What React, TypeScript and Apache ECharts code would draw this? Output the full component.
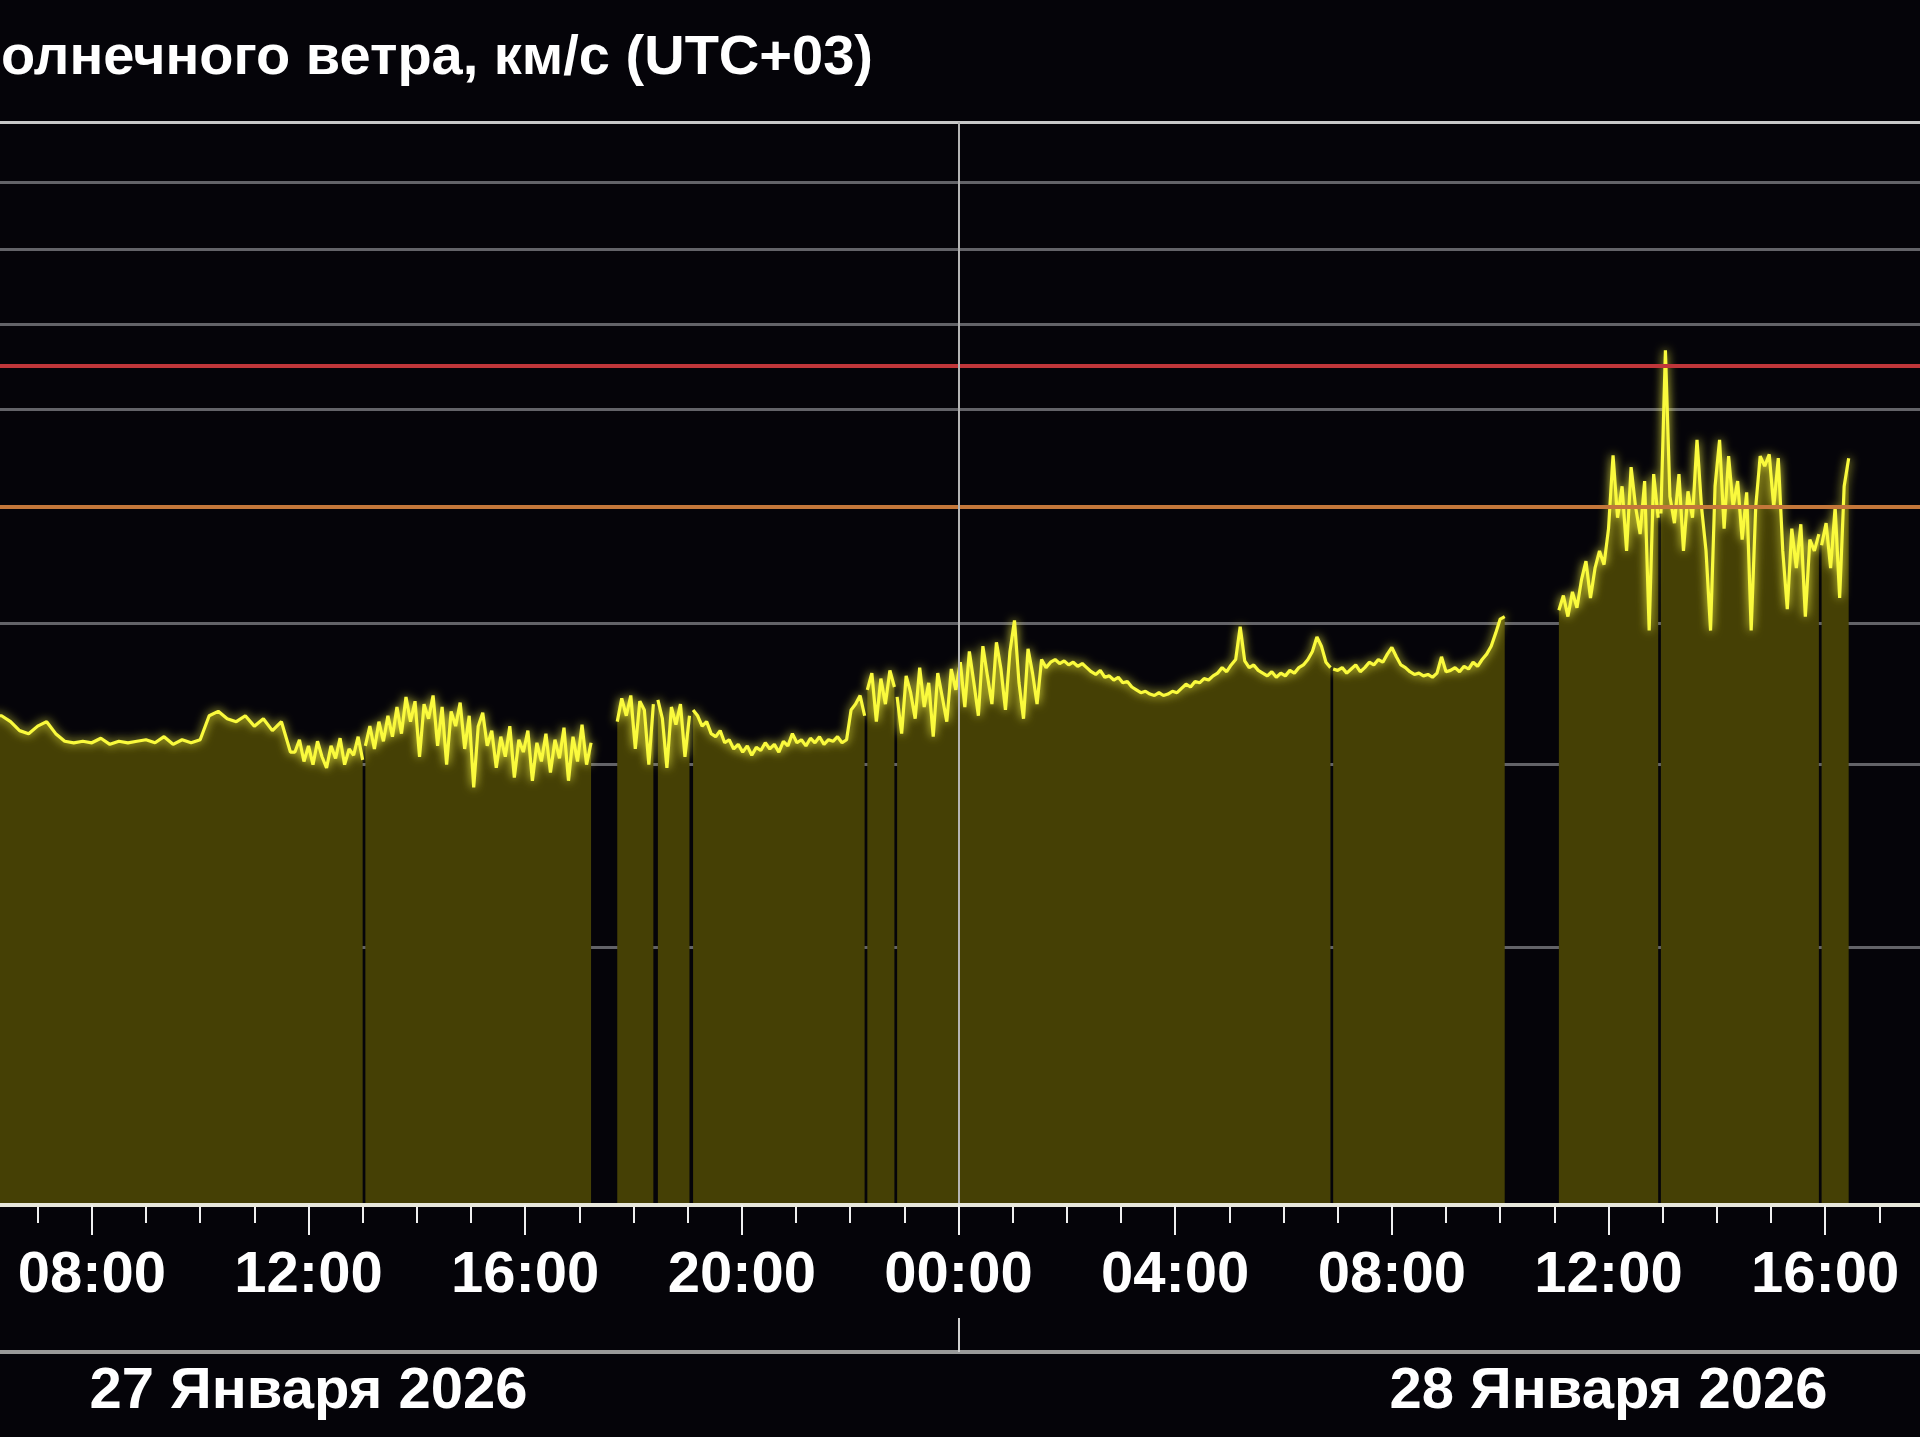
import React, { useEffect, useRef } from 'react';
import * as echarts from 'echarts';

// ---------- texts ----------
const TITLE = 'олнечного ветра, км/с (UTC+03)';
const DAY_LABELS = ['27 Января 2026', '28 Января 2026'];
const DAY_LABEL_HOURS = [12, 36];      // label centred at noon of each day
const DAY_BREAK_HOURS = [24];          // midnight divider

// ---------- axes (hours since 27 Jan 00:00, UTC+03) ----------
const X_MIN = 6.305;   // visible window of the cropped chart
const X_MAX = 41.75;
const MAJOR_TICKS = [8, 12, 16, 20, 24, 28, 32, 36, 40];
const HOUR_TICKS = [7, 8, 9, 10, 11, 12, 13, 14, 15, 16, 17, 18, 19, 20, 21, 22, 23, 24, 25, 26, 27, 28,
  29, 30, 31, 32, 33, 34, 35, 36, 37, 38, 39, 40, 41];
const Y_MIN = 200;     // km/s, log scale
const Y_MAX = 1100;
const GRID_VALUES = [300, 400, 500, 600, 700, 800, 900, 1000];
const THRESHOLD_ORANGE = 600;
const THRESHOLD_RED = 750;

// ---------- data: speed segments (km/s), start time & step ----------
const hm = (day: number, t: string) => {
  const [h, m] = t.split(':').map(Number);
  return (day - 27) * 24 + h + m / 60;
};

const segA = [430, 432, 432, 428, 422, 420, 425, 428, 420, 415, 414, 415, 414, 417, 413, 415, 414, 415, 416, 414,
  418, 413, 416, 414, 416, 432, 435, 430, 428, 432, 425, 430, 422, 428, 408];
const segB = [408, 416, 402, 412, 400, 415, 405, 398, 412, 404, 417, 400, 410, 406, 418, 403];
const segC = [412, 425, 410, 428, 415, 432, 418, 438, 420, 445, 428, 442, 405, 440, 430, 446, 412, 438, 400, 435,
  425, 441, 410, 432, 386, 425, 434, 412, 422, 398, 418, 405, 425, 392, 416, 408, 422, 390, 414, 402,
  420, 395, 416, 404, 424, 390, 418, 402, 426, 400, 414];
const segD = [428, 444, 432, 446, 410, 442, 436, 400, 440];
const segE = [443, 430, 398, 438, 426, 440, 405, 432];
const segF = [436, 432, 425, 428, 420, 418, 422, 414, 416, 410, 413, 408, 412, 406, 411, 409, 414, 410, 413, 408,
  415, 412, 420, 414, 416, 412, 417, 414, 418, 413, 416, 415, 418, 414, 416, 436, 440, 446, 432];
const segG = [450, 462, 428, 458, 440, 464, 452];
const segH = [445, 420, 460, 448, 430, 466, 438, 455, 418, 462, 445, 428, 465, 450,
  470, 438, 478, 455, 432, 482, 460, 440, 485, 465, 436, 478,
  502, 455, 430, 480, 462, 440, 472, 466, 470, 472, 469, 471,
  468, 470, 467, 469, 466, 463, 461, 464, 459, 460, 457, 459,
  455, 456, 452, 450, 448, 449, 447, 446, 448, 446, 447, 449,
  448, 451, 454, 452, 456, 455, 458, 457, 460, 462, 466, 463,
  468, 472, 497, 471, 466, 468, 464, 462, 460, 463, 459, 462,
  460, 464, 462, 466, 468, 472, 478, 489, 482, 470, 466];
const segI = [465, 464, 466, 462, 465, 468, 463, 466, 470, 468, 472, 470, 476, 481, 474, 468, 466, 463, 461, 462,
  460, 461, 459, 462, 474, 463, 464, 466, 463, 467, 465, 470, 467, 472, 476, 482, 492, 503, 505];
const segJ = [510, 522, 505, 525, 512, 535, 551, 520, 545, 560, 548, 580, 651, 590, 620, 560, 639, 600, 575, 625,
  494, 632, 590];
const segK = [594, 768, 610, 585, 632, 560, 615, 590, 667, 600, 560, 494, 620, 667, 580, 650, 600, 625, 570, 614,
  494, 600, 650, 640, 652, 600, 648, 560, 511, 580, 545, 584, 505, 570, 560, 575];
const segL = [565, 585, 545, 600, 520, 620, 648];

const SEGMENTS = [
  { start: hm(27, '06:00'), step: 10, values: segA },
  { start: hm(27, '11:45'), step: 5, values: segB },
  { start: hm(27, '13:03'), step: 5, values: segC },
  { start: hm(27, '17:42'), step: 5, values: segD },
  { start: hm(27, '18:27'), step: 5, values: segE },
  { start: hm(27, '19:06'), step: 5, values: segF },
  { start: hm(27, '22:19'), step: 5, values: segG },
  { start: hm(27, '22:52'), step: 5, values: segH },
  { start: hm(28, '06:55'), step: 5, values: segI },
  { start: hm(28, '11:05'), step: 5, values: segJ },
  { start: hm(28, '12:58'), step: 5, values: segK },
  { start: hm(28, '15:56'), step: 5, values: segL },
];
// segments A->B are contiguous (no gap between them)
const CONTIGUOUS_AFTER = [0];

const FONT = '"Liberation Sans", Arial, sans-serif';

function buildData() {
  const out: (number | null)[][] = [];
  SEGMENTS.forEach((s, k) => {
    s.values.forEach((v, i) => out.push([s.start + (i * s.step) / 60, v]));
    if (k < SEGMENTS.length - 1 && !CONTIGUOUS_AFTER.includes(k)) {
      const end = s.start + ((s.values.length - 1) * s.step) / 60;
      out.push([(end + SEGMENTS[k + 1].start) / 2, null]);
    }
  });
  return out;
}

const pad = (n: number) => (n < 10 ? '0' + n : '' + n);

export default function App() {
  const ref = useRef<HTMLDivElement>(null);
  useEffect(() => {
    if (!ref.current) return;
    const chart = echarts.init(ref.current, null, { renderer: 'svg' });
    const data = buildData();
    const labelStyle = {
      color: '#ffffff',
      fontSize: 58,
      fontWeight: 'bold',
      fontFamily: FONT,
    };
    chart.setOption({
      animation: false,
      backgroundColor: '#050409',
      textStyle: { fontFamily: FONT },
      graphic: [
        {
          type: 'text',
          x: 1,
          y: 54,
          style: {
            text: TITLE,
            fill: '#ffffff',
            font: `bold 56px ${FONT}`,
            textAlign: 'left',
            textVerticalAlign: 'middle',
          },
        },
      ],
      grid: { left: 0, right: 0, top: 122, bottom: 232, containLabel: false },
      xAxis: [
        {
          type: 'value',
          min: X_MIN,
          max: X_MAX,
          position: 'bottom',
          z: 10,
          splitLine: { show: false },
          axisLine: { show: true, lineStyle: { color: '#e8e8dc', width: 4 } },
          axisTick: {
            show: true,
            length: 30,
            customValues: MAJOR_TICKS,
            lineStyle: { color: '#f0f0f0', width: 2 },
          },
          axisLabel: {
            ...labelStyle,
            margin: 37,
            customValues: MAJOR_TICKS,
            formatter: (v: number) => pad(Math.round(v) % 24) + ':00',
          },
        },
        {
          type: 'value',
          min: X_MIN,
          max: X_MAX,
          position: 'bottom',
          offset: 0,
          z: 9,
          splitLine: { show: false },
          axisLine: { show: false },
          axisTick: {
            show: true,
            length: 18,
            customValues: HOUR_TICKS,
            lineStyle: { color: '#f0f0f0', width: 2 },
          },
          axisLabel: { show: false },
        },
        {
          type: 'value',
          min: X_MIN,
          max: X_MAX,
          position: 'bottom',
          offset: 147,
          z: 10,
          splitLine: { show: false },
          axisLine: { show: true, lineStyle: { color: '#9a9a9a', width: 4 } },
          axisTick: {
            show: true,
            inside: true,
            length: 34,
            customValues: DAY_BREAK_HOURS,
            lineStyle: { color: '#d0d0d0', width: 2 },
          },
          axisLabel: {
            ...labelStyle,
            margin: 6,
            customValues: DAY_LABEL_HOURS,
            formatter: (v: number) => {
              const i = DAY_LABEL_HOURS.indexOf(v);
              return i >= 0 ? DAY_LABELS[i] : '';
            },
          },
        },
      ],
      yAxis: {
        type: 'log',
        logBase: 10,
        min: Y_MIN,
        max: Y_MAX,
        show: false,
        splitLine: { show: false },
      },
      series: [
        {
          type: 'line',
          name: 'grid',
          data: [[X_MIN, null]],
          z: 1,
          silent: true,
          showSymbol: false,
          markLine: {
            z: 1,
            silent: true,
            symbol: 'none',
            label: { show: false },
            lineStyle: { color: '#636368', width: 3, type: 'solid' },
            data: GRID_VALUES.map((v) => ({ yAxis: v })),
          },
        },
        {
          type: 'line',
          name: 'speed',
          data,
          z: 2,
          showSymbol: false,
          symbol: 'none',
          connectNulls: false,
          lineStyle: {
            color: '#fafa3c',
            width: 3.2,
            shadowColor: 'rgba(255,255,70,0.95)',
            shadowBlur: 10,
          },
          areaStyle: { color: '#454005', opacity: 1, origin: 'start' },
          markLine: {
            z: 5,
            silent: true,
            symbol: 'none',
            label: { show: false },
            data: [
              { yAxis: THRESHOLD_ORANGE, lineStyle: { color: '#c4773a', width: 4, type: 'solid' } },
              { yAxis: THRESHOLD_RED, lineStyle: { color: '#c0363a', width: 4, type: 'solid' } },
              { yAxis: Y_MAX, lineStyle: { color: '#c8c8c8', width: 3, type: 'solid' } },
              { xAxis: DAY_BREAK_HOURS[0], lineStyle: { color: '#b4b4b4', width: 2, type: 'solid' } },
            ],
          },
        },
      ],
    });
    return () => chart.dispose();
  }, []);
  return (
    <div
      ref={ref}
      style={{ position: 'absolute', left: 0, top: 0, width: 1920, height: 1437 }}
    />
  );
}
